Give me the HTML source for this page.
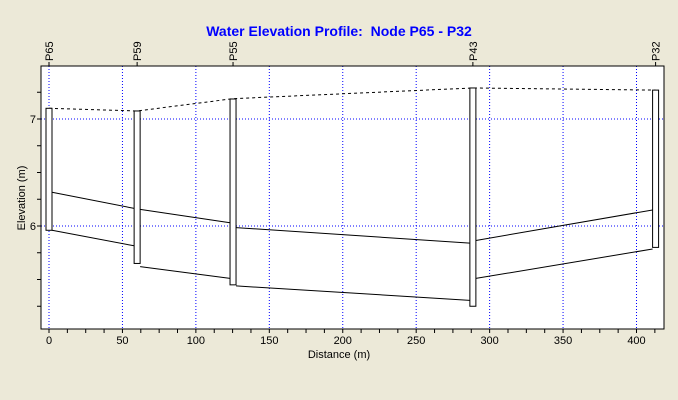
<!DOCTYPE html>
<html><head><meta charset="utf-8"><style>
body{margin:0;background:#ECE9D8;font-family:"Liberation Sans",sans-serif;}
</style></head><body>
<svg width="678" height="400" xmlns="http://www.w3.org/2000/svg" style="display:block">
<rect width="678" height="400" fill="#ECE9D8"/>
<text x="339" y="36" text-anchor="middle" font-size="14" font-weight="bold" fill="#0000FF" xml:space="preserve">Water Elevation Profile:  Node P65 - P32</text>
<g id="plot"></g>
</svg>
<script>
const nodeNames=["P65","P59","P55","P43","P32"];
const nodeDist=[0,60,125.3,288.6,413];
const nodeTop=[7.10,7.075,7.187,7.29,7.27];
const nodeBottom=[5.96,5.65,5.45,5.25,5.80];
const hgl=[7.10,7.075,7.19,7.29,7.27];
const pipeTopStart=[6.315,6.155,5.985,5.865];
const pipeTopEnd=[6.165,6.03,5.84,6.15];
const pipeBotStart=[5.96,5.62,5.44,5.51];
const pipeBotEnd=[5.815,5.51,5.305,5.785];
const xTicks=[0,50,100,150,200,250,300,350,400];
const yTicks=[6,7];
const NS="http://www.w3.org/2000/svg";
const L=41,R=664,T=66,B=329;
const sx=v=>49+v*(636.5-49)/400;
const sy=v=>226-(v-6)*107;
const g=document.getElementById('plot');
function mk(tag,at,parent){const e=document.createElementNS(NS,tag);for(const k in at)e.setAttribute(k,at[k]);(parent||g).appendChild(e);return e;}
const frame=mk('rect',{x:L,y:T,width:R-L,height:B-T,fill:'#fff',stroke:'none'});


// grid
xTicks.forEach(v=>{const l=mk('line',{x1:sx(v),x2:sx(v),y1:T,y2:B,stroke:'#0000FF','stroke-dasharray':'1,2','stroke-width':1});


const t=mk('text',{x:sx(v),y:B+15,'text-anchor':'middle','font-size':11,fill:'#000'});t.textContent=v;

});
for(let v=0;v<=418;v+=12.5){mk('line',{x1:sx(v),x2:sx(v),y1:B,y2:B+4,stroke:'#000'});}
yTicks.forEach(v=>{const l=mk('line',{x1:L,x2:R,y1:sy(v),y2:sy(v),stroke:'#0000FF','stroke-dasharray':'1,2'});


const t=mk('text',{x:L-5,y:sy(v)+4,'text-anchor':'end','font-size':11});t.textContent=v;

});
for(let v=5.25;v<7.5;v+=0.25){mk('line',{x1:L-4,x2:L,y1:sy(v),y2:sy(v),stroke:'#000'});}
// pipes
for(let i=0;i<4;i++){
const x1=sx(nodeDist[i])+3,x2=sx(nodeDist[i+1])-3;
const a=mk('line',{x1:x1,x2:x2,y1:sy(pipeTopStart[i]),y2:sy(pipeTopEnd[i]),stroke:'#000'});


const b=mk('line',{x1:x1,x2:x2,y1:sy(pipeBotStart[i]),y2:sy(pipeBotEnd[i]),stroke:'#000'});


}
// hgl
const pts=nodeDist.map((d,i)=>sx(d)+','+sy(hgl[i])).join(' ');
const h=mk('polyline',{points:pts,fill:'none',stroke:'#000','stroke-dasharray':'3,3'});


// nodes
nodeDist.forEach((d,i)=>{
const r=mk('rect',{x:sx(d)-3,y:sy(nodeTop[i]),width:6,height:sy(nodeBottom[i])-sy(nodeTop[i]),fill:'#fff',stroke:'#000'});


mk('line',{x1:sx(d),x2:sx(d),y1:T-4,y2:T,stroke:'#000'});
const t=mk('text',{x:0,y:0,'font-size':11,transform:`translate(${sx(d)+4},${T-5}) rotate(-90)`});t.textContent=nodeNames[i];


});
const f=mk('rect',{x:L,y:T,width:R-L,height:B-T,fill:'none',stroke:'#000'});


const xt=mk('text',{x:339,y:358,'text-anchor':'middle','font-size':11});xt.textContent='Distance (m)';


const yt=mk('text',{x:0,y:0,'text-anchor':'middle','font-size':11,transform:'translate(25,198) rotate(-90)'});yt.textContent='Elevation (m)';


</script>
</body></html>
